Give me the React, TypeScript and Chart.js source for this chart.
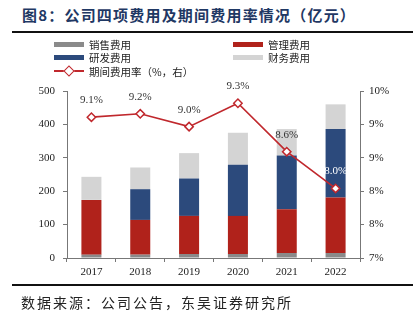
import React, { useEffect, useRef } from "react";
import { Chart, registerables } from "chart.js";

Chart.register(...registerables);

const years = ["2017", "2018", "2019", "2020", "2021", "2022"];
const salesExp = [10, 10, 12, 12, 15, 15];
const adminExp = [164, 104, 114, 114, 131, 166];
const rdExp = [0, 92, 112, 153, 161, 205];
const financeExp = [69, 65, 76, 96, 79, 74];
const rateValues = [9.53, 9.59, 9.36, 9.78, 8.91, 8.25];
const rateLabels = ["9.1%", "9.2%", "9.0%", "9.3%", "8.6%", "8.0%"];
const rateLabelColors = ["#333", "#333", "#333", "#333", "#333", "#fff"];

const C_SALES = "#8a8a8a";
const C_ADMIN = "#b0221b";
const C_RD = "#2c4a7c";
const C_FIN = "#d4d4d4";
const C_LINE = "#c0282d";

const NUM_FONT = "'Liberation Serif', 'Times New Roman', serif";
const CJK_FONT = "'Noto Sans CJK SC', sans-serif";

const labelPlugin = {
  id: "rateLabels",
  afterDatasetsDraw(chart: any) {
    const meta = chart.getDatasetMeta(0);
    const ctx = chart.ctx;
    ctx.save();
    ctx.font = `11px ${NUM_FONT}`;
    ctx.textAlign = "center";
    ctx.textBaseline = "middle";
    meta.data.forEach((pt: any, i: number) => {
      ctx.fillStyle = rateLabelColors[i];
      ctx.fillText(rateLabels[i], pt.x, pt.y - 17);
    });
    ctx.restore();
  },
};

function LegendItem({ x, y, color, text, line }: any) {
  return (
    <div style={{ position: "absolute", left: x, top: y - 8, height: 16, display: "flex", alignItems: "center" }}>
      {line ? (
        <div style={{ position: "relative", width: 30, height: 16 }}>
          <div style={{ position: "absolute", left: 0, top: 7, width: 30, height: 2, background: C_LINE }} />
          <div
            style={{
              position: "absolute",
              left: 11,
              top: 4,
              width: 6,
              height: 6,
              background: "#fff",
              border: `1.5px solid ${C_LINE}`,
              transform: "rotate(45deg)",
            }}
          />
        </div>
      ) : (
        <div style={{ width: 30, height: 5, background: color }} />
      )}
      <span style={{ marginLeft: 5, fontFamily: CJK_FONT, fontSize: 10.5, color: "#222", whiteSpace: "nowrap" }}>{text}</span>
    </div>
  );
}

export default function App() {
  const ref = useRef<HTMLCanvasElement>(null);

  useEffect(() => {
    const canvas = ref.current!;
    const chart = new Chart(canvas, {
      type: "bar",
      data: {
        labels: years,
        datasets: [
          {
            type: "line",
            label: "期间费用率（%，右）",
            data: rateValues,
            yAxisID: "y1",
            borderColor: C_LINE,
            borderWidth: 1.6,
            pointStyle: "rectRot",
            pointRadius: 4.2,
            pointBackgroundColor: "#fff",
            pointBorderColor: C_LINE,
            pointBorderWidth: 1.5,
            order: 0,
          } as any,
          { label: "销售费用", data: salesExp, backgroundColor: C_SALES, yAxisID: "y", order: 1 },
          { label: "管理费用", data: adminExp, backgroundColor: C_ADMIN, yAxisID: "y", order: 1 },
          { label: "研发费用", data: rdExp, backgroundColor: C_RD, yAxisID: "y", order: 1 },
          { label: "财务费用", data: financeExp, backgroundColor: C_FIN, yAxisID: "y", order: 1 },
        ],
      },
      options: {
        animation: false,
        responsive: false,
        layout: { padding: { top: 91, bottom: 40, left: 0, right: 0 } },
        datasets: { bar: { barPercentage: 0.41, categoryPercentage: 1 } } as any,
        plugins: { legend: { display: false }, tooltip: { enabled: false } },
        scales: {
          x: {
            stacked: true,
            grid: { drawOnChartArea: false, drawTicks: true, tickLength: 4, color: "#777", offset: true },
            border: { color: "#777" },
            ticks: { color: "#222", font: { family: NUM_FONT, size: 11 }, padding: 4 },
            afterFit: (s: any) => {
              s.height = 24;
            },
          },
          y: {
            stacked: true,
            position: "left",
            min: 0,
            max: 500,
            ticks: { stepSize: 100, color: "#222", font: { family: NUM_FONT, size: 11 }, padding: 8 },
            grid: { drawOnChartArea: false, tickLength: 4, color: "#777" },
            border: { color: "#777" },
            afterFit: (s: any) => {
              s.width = 67;
            },
          },
          y1: {
            position: "right",
            min: 7,
            max: 10,
            ticks: {
              stepSize: 0.6,
              color: "#222",
              font: { family: NUM_FONT, size: 11 },
              padding: 5,
              callback: (v: any) => Math.round(Number(v)) + "%",
            },
            grid: { drawOnChartArea: false, tickLength: 4, color: "#777" },
            border: { color: "#777" },
            afterFit: (s: any) => {
              s.width = 57;
            },
          },
        },
      },
      plugins: [labelPlugin],
    });
    return () => chart.destroy();
  }, []);

  return (
    <div style={{ position: "fixed", left: 0, top: 0, width: 417, height: 322, background: "#fff", overflow: "hidden" }}>
      <div
        style={{
          position: "absolute",
          left: 22,
          top: 5,
          fontFamily: CJK_FONT,
          fontWeight: 700,
          fontSize: 15,
          letterSpacing: 1.2,
          color: "#1f3864",
          whiteSpace: "nowrap",
          lineHeight: "20px",
        }}
      >
        图8：公司四项费用及期间费用率情况（亿元）
      </div>
      <div style={{ position: "absolute", left: 12, top: 31, width: 401, height: 2, background: "#111" }} />
      <canvas ref={ref} width={417} height={322} style={{ position: "absolute", left: 0, top: 0, width: 417, height: 322 }} />
      <LegendItem x={54} y={44} color={C_SALES} text="销售费用" />
      <LegendItem x={233} y={44} color={C_ADMIN} text="管理费用" />
      <LegendItem x={54} y={57.5} color={C_RD} text="研发费用" />
      <LegendItem x={233} y={57.5} color={C_FIN} text="财务费用" />
      <LegendItem x={54} y={71} line text="期间费用率（%，右）" />
      <div style={{ position: "absolute", left: 12, top: 284, width: 401, height: 2, background: "#111" }} />
      <div
        style={{
          position: "absolute",
          left: 21,
          top: 292,
          fontFamily: CJK_FONT,
          fontSize: 14,
          letterSpacing: 2,
          color: "#222",
          whiteSpace: "nowrap",
          lineHeight: "20px",
        }}
      >
        数据来源：公司公告，东吴证券研究所
      </div>
    </div>
  );
}
